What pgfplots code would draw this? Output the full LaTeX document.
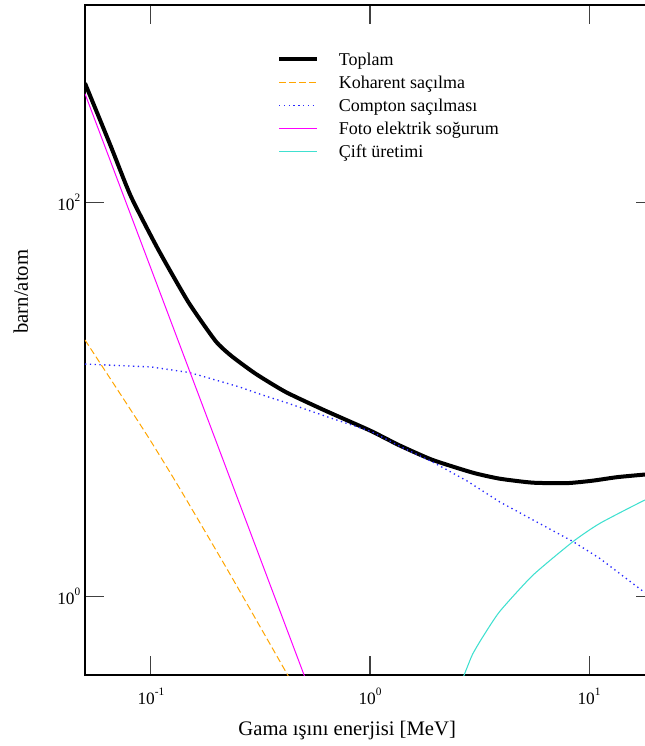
\documentclass[border=0pt]{standalone}
\usepackage{fontspec}
\setmainfont{Liberation Serif}
\usepackage{pgfplots}
\pgfplotsset{compat=1.18}
\definecolor{cohorange}{HTML}{FFA500}
\definecolor{compblue}{HTML}{2828FF}
\definecolor{photomag}{HTML}{FF00FF}
\definecolor{pairturq}{HTML}{40E0D0}
\newcommand{\sups}[1]{\raisebox{0.52em}{\fontsize{8.5}{9}\selectfont #1}}
\begin{document}
\begin{tikzpicture}
\begin{axis}[name=ax, xmode=log, ymode=log, scale only axis,
  width=427.5pt, height=502.5pt,
  xmin=0.05, xmax=20, ymin=0.4, ymax=1000,
  xtick={0.1,1,10}, xticklabels={10\sups{-1},10\sups{0},10\sups{1}},
  ytick={1,100}, yticklabels={10\sups{0},10\sups{2}},
  xminorticks=false, yminorticks=false,
  tick align=inside, major tick length=14.25pt, tick pos=both,
  every tick/.style={black!75, line width=0.8pt},
  axis line style={line width=1.3pt},
  every tick label/.append style={font=\fontsize{13}{15}\selectfont},
  xticklabel style={yshift=-6pt},
  xlabel={Gama ışını enerjisi [MeV]}, ylabel={barn/atom},
  label style={font=\fontsize{15.5}{18}\selectfont},
  xlabel style={at={(axis description cs:0.46,-0.091)}, anchor=base},
  ylabel style={at={(axis description cs:-0.1,0.572)}, anchor=base},
  legend cell align=left,
  legend image code/.code={\draw[#1] (0pt,0pt) -- (28.5pt,0pt);},
  legend style={at={(axis description cs:0.337,0.932)}, anchor=north west,
    draw=none, fill=none, inner sep=0pt, outer sep=0pt,
    font=\fontsize{13.5}{16}\selectfont, row sep=4.25pt, column sep=12.75pt,
    nodes={text height=11pt, text depth=2pt, inner ysep=0pt}},
]
\addplot[black, line width=3pt, smooth, tension=0.35] coordinates {
(0.05,401) (0.0656,192) (0.081,107) (0.1077,57.8) (0.148,31.2) (0.197,19.8)
(0.233,16.6) (0.300,13.5) (0.412,10.9) (0.62,8.8) (1.0,6.95) (1.36,5.85)
(1.92,4.94) (2.94,4.25) (3.91,3.96) (5.53,3.78) (7.93,3.76) (10.4,3.87)
(13.4,4.03) (17.7,4.15) (20,4.2)};
\addlegendentry{Toplam}
\addplot[cohorange, line width=0.75pt, dash pattern=on 5pt off 2.5pt, smooth, tension=0.35] coordinates {
(0.05,20.0) (0.0938,6.85) (0.133,3.65) (0.225,1.35) (0.412,0.417) (0.472,0.319)};
\addlegendentry{Koharent saçılma}
\addplot[compblue, line width=1pt, dash pattern=on 1pt off 2.6pt] coordinates {
(0.05,15.1) (0.1,14.6) (0.148,13.7) (0.164,13.3) (0.251,11.6) (0.333,10.4)
(0.412,9.65) (0.65,8.1) (1.02,6.85) (1.36,5.8) (1.92,4.83) (2.76,3.87)
(3.91,3.02) (5.53,2.45) (8.45,1.9) (11.2,1.56) (17.7,1.06) (20,0.99)};
\addlegendentry{Compton saçılması}
\addplot[photomag, line width=0.75pt] coordinates {
(0.05,355) (0.1,46.1) (0.2,5.98) (0.5,0.40) (0.6,0.234)};
\addlegendentry{Foto elektrik soğurum}
\addplot[pairturq, line width=0.8pt, smooth, tension=0.35] coordinates {
(2.40,0.29) (2.76,0.43) (2.94,0.51) (3.26,0.62) (3.91,0.84) (5.53,1.28)
(8.45,1.9) (11.2,2.35) (17.7,3.06) (20,3.22)};
\addlegendentry{Çift üretimi}
\end{axis}
\pgfresetboundingbox
\useasboundingbox ([shift={(-63.75pt,-53.25pt)}]ax.south west) rectangle +(483pt,559.5pt);
\end{tikzpicture}
\end{document}
